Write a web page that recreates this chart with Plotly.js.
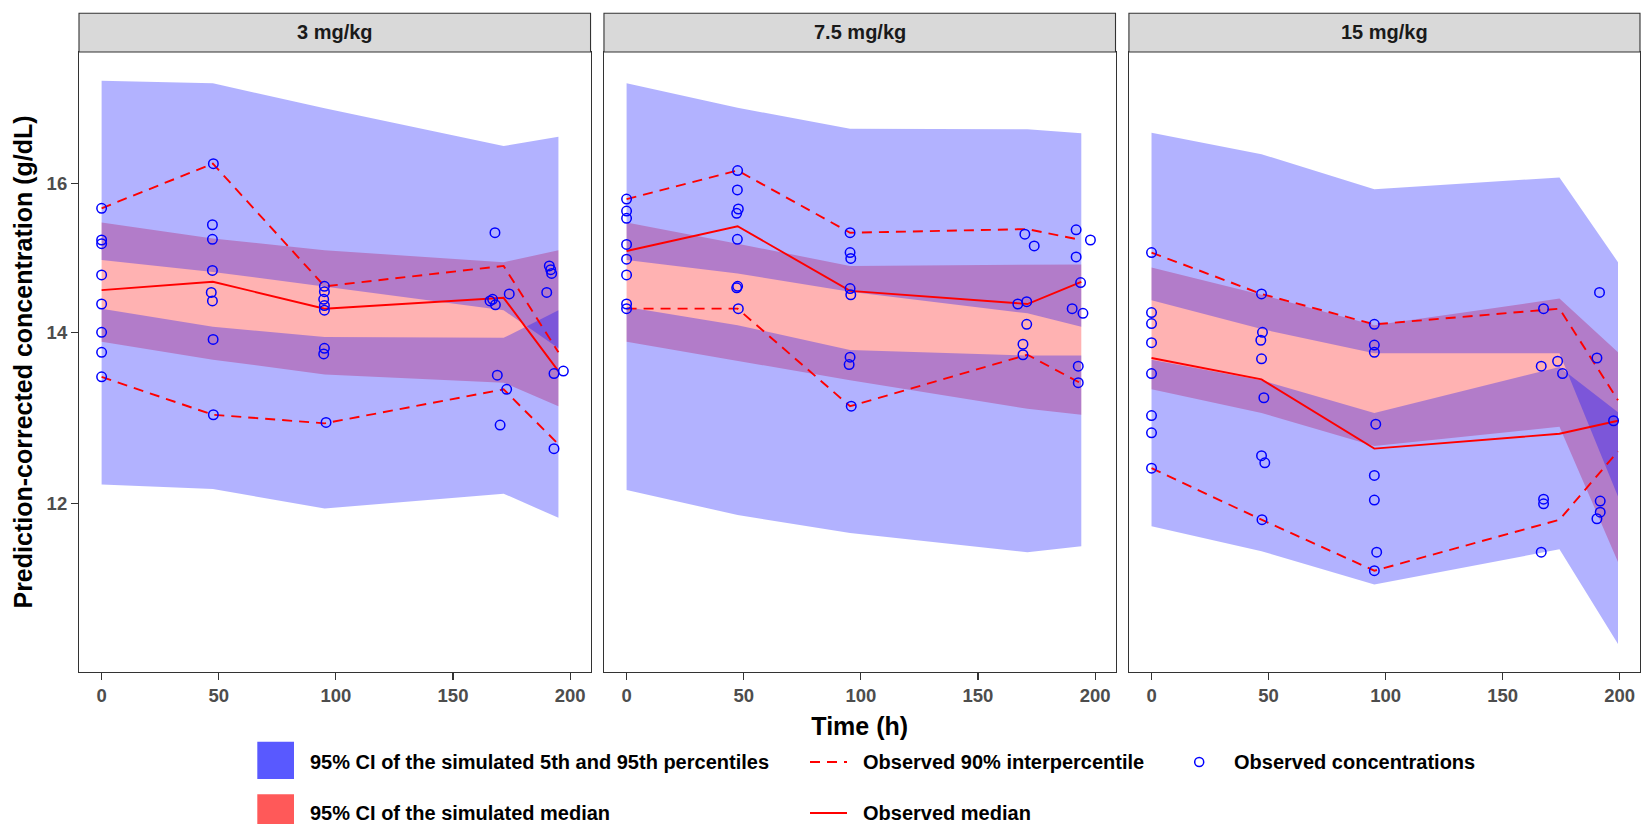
<!DOCTYPE html>
<html><head><meta charset="utf-8">
<script src="https://cdn.plot.ly/plotly-3.0.1.min.js"></script>
<style>html,body{margin:0;padding:0;background:#fff}#chart{width:1641px;height:824px}</style>
</head><body><div id="chart"></div>
<script>
// ---------------- DATA ----------------
const panelLabels = ['3 mg/kg', '7.5 mg/kg', '15 mg/kg'];
const xTicks = [0, 50, 100, 150, 200];
const yTicks = [12, 14, 16];

// Panel 1: 3 mg/kg
const binTime_3   = [0, 47.5, 95.2, 171.6, 195.0];
const medCI_lo_3  = [13.88, 13.66, 13.48, 13.38, 13.10];
const medCI_hi_3  = [15.45, 15.23, 15.07, 14.91, 15.07];
const p95CI_lo_3  = [14.94, 14.78, 14.59, 14.28, 13.80];
const p95CI_hi_3  = [17.55, 17.51, 17.12, 16.55, 16.69];
const p5CI_lo_3   = [12.21, 12.16, 11.95, 12.11, 11.85];
const p5CI_hi_3   = [14.30, 14.07, 13.94, 13.93, 14.28];
const obsP95_3    = [15.65, 16.29, 14.59, 14.86, 13.75];
const obsMed_3    = [14.54, 14.65, 14.30, 14.44, 13.52];
const obsP5_3     = [13.45, 13.00, 12.90, 13.30, 12.66];
const obsTime_3 = [0,0,0,0,0,0,0,0, 47.7,47.3,47.3,47.3,46.8,47.3,47.6,47.7,
  95.1,95.1,94.8,95.1,95.1,95.1,94.8,95.8, 167.9,165.8,166.9,168.1,174.0,168.9,172.9,170.1,
  191.1,191.7,192.1,190.0,193.1,197.1,193.1];
const obsConc_3 = [15.65,15.21,15.16,14.74,14.36,14.00,13.75,13.45, 16.29,15.42,15.22,14.80,14.51,14.40,13.91,13.00,
  14.59,14.52,14.42,14.34,14.28,13.80,13.73,12.91, 15.31,14.40,14.42,14.35,14.49,13.47,13.30,12.88,
  14.86,14.81,14.76,14.51,13.49,13.52,12.61];

// Panel 2: 7.5 mg/kg
const binTime_7   = [0, 47.4, 95.4, 171.1, 194.1];
const medCI_lo_7  = [13.88, 13.64, 13.41, 13.07, 13.00];
const medCI_hi_7  = [15.45, 15.16, 14.86, 14.88, 14.88];
const p95CI_lo_7  = [14.94, 14.76, 14.52, 14.24, 14.07];
const p95CI_hi_7  = [17.51, 17.13, 16.81, 16.80, 16.74];
const p5CI_lo_7   = [12.15, 11.88, 11.69, 11.49, 11.55];
const p5CI_hi_7   = [14.32, 14.09, 13.78, 13.71, 13.71];
const obsP95_7    = [15.78, 16.19, 15.31, 15.36, 15.21];
const obsMed_7    = [15.06, 15.40, 14.53, 14.36, 14.65];
const obsP5_7     = [14.30, 14.30, 13.10, 13.72, 13.37];
const obsTime_7 = [0,0,0,0,0,0,0,0, 47.4,47.3,47.7,47.0,47.3,47.4,47.0,47.7,
  95.4,95.4,95.7,95.4,95.7,95.4,95.0,95.9, 170.0,174.0,167.0,170.8,170.8,169.2,169.2,
  191.9,198.0,191.9,193.8,190.2,194.8,192.8,192.8];
const obsConc_7 = [15.78,15.61,15.51,15.15,14.95,14.74,14.36,14.30, 16.19,15.91,15.64,15.58,15.22,14.59,14.57,14.30,
  15.31,15.04,14.96,14.56,14.48,13.69,13.60,13.10, 15.29,15.13,14.36,14.39,14.10,13.85,13.72,
  15.35,15.21,14.98,14.64,14.30,14.24,13.58,13.38];

// Panel 3: 15 mg/kg
const binTime_15  = [0, 47.0, 95.2, 174.3, 199.3];
const medCI_lo_15 = [13.30, 13.02, 12.64, 12.86, 11.39];
const medCI_hi_15 = [14.84, 14.48, 14.09, 14.43, 13.75];
const p95CI_lo_15 = [14.41, 14.04, 13.74, 13.74, 12.08];
const p95CI_hi_15 = [16.75, 16.43, 15.92, 16.09, 14.91];
const p5CI_lo_15  = [11.76, 11.50, 11.16, 11.52, 10.58];
const p5CI_hi_15  = [13.66, 13.41, 13.02, 13.57, 13.03];
const obsP95_15   = [15.04, 14.49, 14.10, 14.30, 13.17];
const obsMed_15   = [13.68, 13.42, 12.61, 12.78, 12.93];
const obsP5_15    = [12.39, 11.83, 11.30, 11.83, 12.58];
const obsTime_15 = [0,0,0,0,0,0,0,0, 47.0,47.4,46.7,47.0,48.0,47.0,48.4,47.2,
  95.2,95.2,95.2,95.8,95.2,95.2,96.2,95.2, 167.5,166.5,173.5,175.6,167.5,167.5,166.5,
  191.4,190.3,197.4,191.7,191.7,190.3];
const obsConc_15 = [15.04,14.25,14.11,13.87,13.49,12.99,12.79,12.39, 14.49,14.00,13.90,13.67,13.20,12.53,12.45,11.83,
  14.10,13.84,13.75,12.89,12.31,12.04,11.49,11.30, 14.30,13.58,13.64,13.49,12.05,12.00,11.49,
  14.51,13.68,12.93,12.03,11.91,11.84];

const legendLabels = ['95% CI of the simulated 5th and 95th percentiles', '95% CI of the simulated median',
  'Observed 90% interpercentile', 'Observed median', 'Observed concentrations'];

// ---------------- BUILD ----------------
const FONT = 'Liberation Sans, Arial, Helvetica, sans-serif';
const BLUE_FILL = 'rgba(0,0,255,0.3)';
const RED_FILL = 'rgba(255,0,0,0.3)';

const panels = [
  {bins: binTime_3, mlo: medCI_lo_3, mhi: medCI_hi_3, hlo: p95CI_lo_3, hhi: p95CI_hi_3, llo: p5CI_lo_3, lhi: p5CI_hi_3,
   o95: obsP95_3, omed: obsMed_3, o5: obsP5_3, t: obsTime_3, c: obsConc_3},
  {bins: binTime_7, mlo: medCI_lo_7, mhi: medCI_hi_7, hlo: p95CI_lo_7, hhi: p95CI_hi_7, llo: p5CI_lo_7, lhi: p5CI_hi_7,
   o95: obsP95_7, omed: obsMed_7, o5: obsP5_7, t: obsTime_7, c: obsConc_7},
  {bins: binTime_15, mlo: medCI_lo_15, mhi: medCI_hi_15, hlo: p95CI_lo_15, hhi: p95CI_hi_15, llo: p5CI_lo_15, lhi: p5CI_hi_15,
   o95: obsP95_15, omed: obsMed_15, o5: obsP5_15, t: obsTime_15, c: obsConc_15}
];

function band(x, lo, hi, color, xa, ya) {
  return {type: 'scatter', mode: 'lines', x: x.concat(x.slice().reverse()), y: hi.concat(lo.slice().reverse()),
    fill: 'toself', fillcolor: color, line: {width: 0, color: 'rgba(0,0,0,0)'}, hoverinfo: 'skip',
    showlegend: false, xaxis: xa, yaxis: ya};
}
function oline(x, y, dash, xa, ya) {
  return {type: 'scatter', mode: 'lines', x: x, y: y, line: {color: 'red', width: 1.9, dash: dash},
    showlegend: false, xaxis: xa, yaxis: ya};
}

const traces = [];
panels.forEach((p, i) => {
  const xa = i === 0 ? 'x' : 'x' + (i + 1);
  const ya = i === 0 ? 'y' : 'y' + (i + 1);
  traces.push(band(p.bins, p.mlo, p.mhi, RED_FILL, xa, ya));
  traces.push(band(p.bins, p.hlo, p.hhi, BLUE_FILL, xa, ya));
  traces.push(band(p.bins, p.llo, p.lhi, BLUE_FILL, xa, ya));
  traces.push(oline(p.bins, p.o95, '10px,7px', xa, ya));
  traces.push(oline(p.bins, p.o5, '10px,7px', xa, ya));
  traces.push(oline(p.bins, p.omed, 'solid', xa, ya));
  traces.push({type: 'scatter', mode: 'markers', x: p.t, y: p.c, xaxis: xa, yaxis: ya, showlegend: false,
    marker: {symbol: 'circle-open', size: 9.5, color: 'blue', line: {width: 1.5, color: 'blue'}}});
});

const W = 1641, H = 824;
const M = {l: 79, r: 1, t: 52, b: 152};
const PW = W - M.l - M.r, PH = H - M.t - M.b;
const px2x = px => (px - M.l) / PW;
const py2y = py => 1 - (py - M.t) / PH;

const domains = [[0, 0.3277], [0.3363, 0.6640], [0.6726, 1]];
const XRANGE = [-9.65, 208.7];
const YRANGE = [1.01355, 1.2555];
const tickFont = {family: FONT, size: 18.5, color: '#4D4D4D', weight: 'bold'};
const titleFont = {family: FONT, size: 25, color: '#000000', weight: 'bold'};

function xaxis(i) {
  const a = {domain: domains[i], anchor: i === 0 ? 'y' : 'y' + (i + 1), range: XRANGE, tickvals: xTicks,
    ticks: 'outside', ticklen: 7, tickwidth: 1.1, tickcolor: '#333333', showline: true, mirror: true,
    linecolor: '#333333', linewidth: 1.1, showgrid: false, zeroline: false, tickfont: tickFont, automargin: false};
  return a;
}
function yaxis(i) {
  const a = {domain: [0, 1], anchor: i === 0 ? 'x' : 'x' + (i + 1), type: 'log', range: YRANGE,
    tickvals: yTicks, ticktext: yTicks.map(String), showline: true, mirror: true, linecolor: '#333333',
    linewidth: 1.1, showgrid: false, zeroline: false, automargin: false, tickfont: tickFont};
  if (i === 0) { a.ticks = 'outside'; a.ticklen = 7; a.tickwidth = 1.1; a.tickcolor = '#333333'; }
  else { a.ticks = ''; a.showticklabels = false; }
  return a;
}

const layout = {
  width: W, height: H, margin: M, paper_bgcolor: '#ffffff', plot_bgcolor: '#ffffff',
  font: {family: FONT}, showlegend: false,
  xaxis: xaxis(0), xaxis2: xaxis(1), xaxis3: xaxis(2),
  yaxis: yaxis(0), yaxis2: yaxis(1), yaxis3: yaxis(2),
  shapes: [], annotations: []
};
layout.xaxis2.title = {text: 'Time (h)', font: titleFont, standoff: 12};
layout.yaxis.title = {text: 'Prediction-corrected concentration (g/dL)', font: titleFont, standoff: 6};

// Facet strips
panelLabels.forEach((lab, i) => {
  layout.shapes.push({type: 'rect', xref: 'paper', yref: 'paper', x0: domains[i][0], x1: domains[i][1],
    y0: 1, y1: py2y(13.3), fillcolor: '#D9D9D9', line: {color: '#333333', width: 1.1}, layer: 'above'});
  layout.annotations.push({text: lab, xref: 'paper', yref: 'paper', x: (domains[i][0] + domains[i][1]) / 2,
    y: py2y(32.5), xanchor: 'center', yanchor: 'middle', showarrow: false,
    font: {family: FONT, size: 20, color: '#1A1A1A', weight: 'bold'}});
});

// Legend (drawn below the panels)
const legFont = {family: FONT, size: 20, color: '#000000', weight: 'bold'};
const row1 = 762, row2 = 813;
layout.shapes.push({type: 'rect', xref: 'paper', yref: 'paper', x0: px2x(257.3), x1: px2x(294),
  y0: py2y(779), y1: py2y(741.7), fillcolor: 'rgba(0,0,255,0.65)', line: {width: 0}});
layout.shapes.push({type: 'rect', xref: 'paper', yref: 'paper', x0: px2x(257.3), x1: px2x(294),
  y0: py2y(831), y1: py2y(794.3), fillcolor: 'rgba(255,0,0,0.65)', line: {width: 0}});
layout.shapes.push({type: 'line', xref: 'paper', yref: 'paper', x0: px2x(810), x1: px2x(847),
  y0: py2y(row1), y1: py2y(row1), line: {color: 'red', width: 1.9, dash: '10px,7px'}});
layout.shapes.push({type: 'line', xref: 'paper', yref: 'paper', x0: px2x(810), x1: px2x(847),
  y0: py2y(row2), y1: py2y(row2), line: {color: 'red', width: 1.9}});
layout.shapes.push({type: 'circle', xref: 'paper', yref: 'paper', x0: px2x(1194.7), x1: px2x(1203.7),
  y0: py2y(row1 + 4.5), y1: py2y(row1 - 4.5), line: {color: 'blue', width: 1.5}});
const legPos = [[308.3, row1], [308.3, row2], [861, row1], [861, row2], [1232.3, row1]];
legendLabels.forEach((t, i) => {
  layout.annotations.push({text: t, xref: 'paper', yref: 'paper', x: px2x(legPos[i][0]), y: py2y(legPos[i][1]),
    xanchor: 'left', yanchor: 'middle', showarrow: false, font: legFont});
});

Plotly.newPlot('chart', traces, layout, {displayModeBar: false, staticPlot: true});
</script>
</body></html>
